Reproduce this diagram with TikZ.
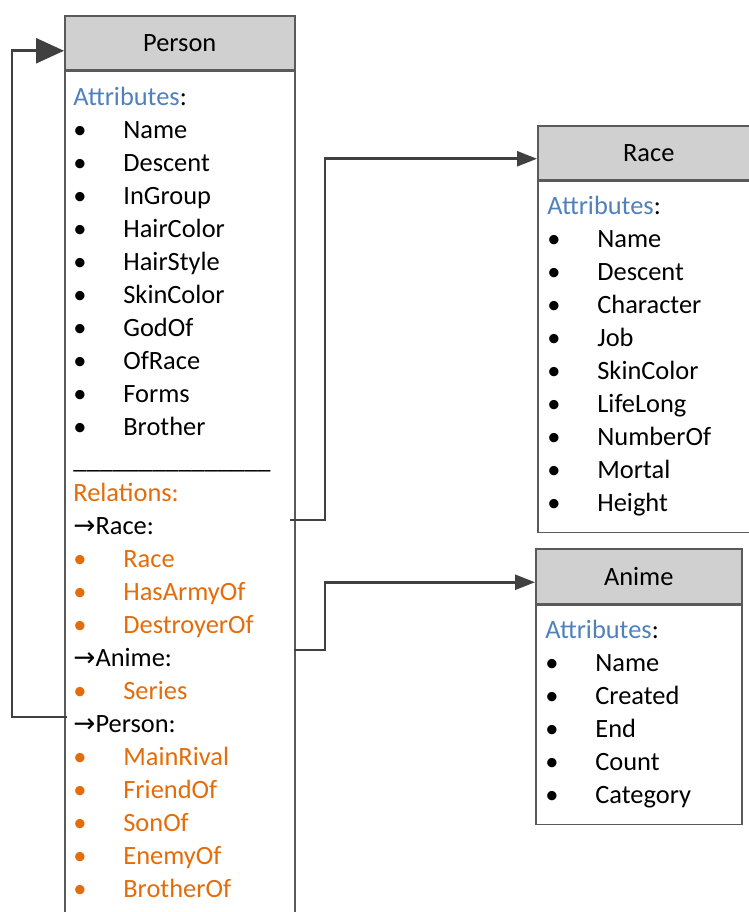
\documentclass[tikz,border=0pt]{standalone}
\usepackage{fontspec}
\setmainfont{Carlito}
\newfontfamily\symfont{DejaVu Sans}
\usetikzlibrary{arrows.meta}
\definecolor{headgray}{RGB}{208,208,208}
\definecolor{boxgray}{RGB}{90,90,90}
\definecolor{linegray}{RGB}{64,64,64}
\definecolor{attrblue}{RGB}{79,129,189}
\definecolor{relorange}{RGB}{228,108,10}
\newcommand{\bul}[1]{\makebox[25pt][l]{\textbullet}#1}
\newcommand{\obul}[1]{\textcolor{relorange}{\bul{#1}}}
\newcommand{\rarr}{{\symfont →}}

\begin{document}
\begin{tikzpicture}[x=0.5pt,y=-0.5pt,
>={Triangle[length=10pt,width=7.5pt]},
every node/.style={font=\fontsize{13.2}{16.5}\selectfont,inner sep=0pt},
header/.style={draw=boxgray,line width=0.75pt,fill=headgray,minimum height=27pt,anchor=north west},
body/.style={draw=boxgray,line width=0.75pt,fill=white,anchor=north west},
list/.style={align=left,anchor=north west},
conn/.style={draw=linegray,line width=1.3pt}]

\useasboundingbox (0,0) rectangle (749,912);
\clip (0,0) rectangle (749,912);

% Person
\node[header,minimum width=115pt] (person) at (64,15) {Person};
\node[body,minimum width=115pt,minimum height=440pt] (personbody) at (person.south west) {};
\node[list] (personlist) at (73,82) {\strut\textcolor{attrblue}{Attributes}:\\
\bul{Name}\\ \bul{Descent}\\ \bul{InGroup}\\ \bul{HairColor}\\ \bul{HairStyle}\\
\bul{SkinColor}\\ \bul{GodOf}\\ \bul{OfRace}\\ \bul{Forms}\\ \bul{Brother}\\
\_\_\_\_\_\_\_\_\_\_\_\_\_\_\_\\
\textcolor{relorange}{Relations:}\\
\rarr Race:\\
\obul{Race}\\ \obul{HasArmyOf}\\ \obul{DestroyerOf}\\
\rarr Anime:\\
\obul{Series}\\
\rarr Person:\\
\obul{MainRival}\\ \obul{FriendOf}\\ \obul{SonOf}\\ \obul{EnemyOf}\\ \obul{BrotherOf}};

% Race
\node[header,minimum width=111pt] (race) at (537,125) {Race};
\node[body,minimum width=111pt,minimum height=175.5pt] (racebody) at (race.south west) {};
\node[list] (racelist) at (547,191) {\strut\textcolor{attrblue}{Attributes}:\\
\bul{Name}\\ \bul{Descent}\\ \bul{Character}\\ \bul{Job}\\ \bul{SkinColor}\\
\bul{LifeLong}\\ \bul{NumberOf}\\ \bul{Mortal}\\ \bul{Height}};

% Anime
\node[header,minimum width=103pt,minimum height=27.5pt] (anime) at (535,548) {Anime};
\node[body,minimum width=103pt,minimum height=109.5pt] (animebody) at (anime.south west) {};
\node[list] (animelist) at (545,615) {\strut\textcolor{attrblue}{Attributes}:\\
\bul{Name}\\ \bul{Created}\\ \bul{End}\\ \bul{Count}\\ \bul{Category}};

% relations
\coordinate (torace) at (290,520);
\coordinate (toanime) at (294,650);
\coordinate (toperson) at (67,717);
\draw[conn,->] (torace) -- ++(35,0) |- ([yshift=-3pt]race.west);
\draw[conn,->] (toanime) -- ++(31,0) |- ([yshift=-3pt]anime.west);
\draw[conn,-{Triangle[length=14pt,width=12.5pt]}] (toperson) -- ++(-55,0) |- ([yshift=-4pt]person.west);
\end{tikzpicture}
\end{document}
